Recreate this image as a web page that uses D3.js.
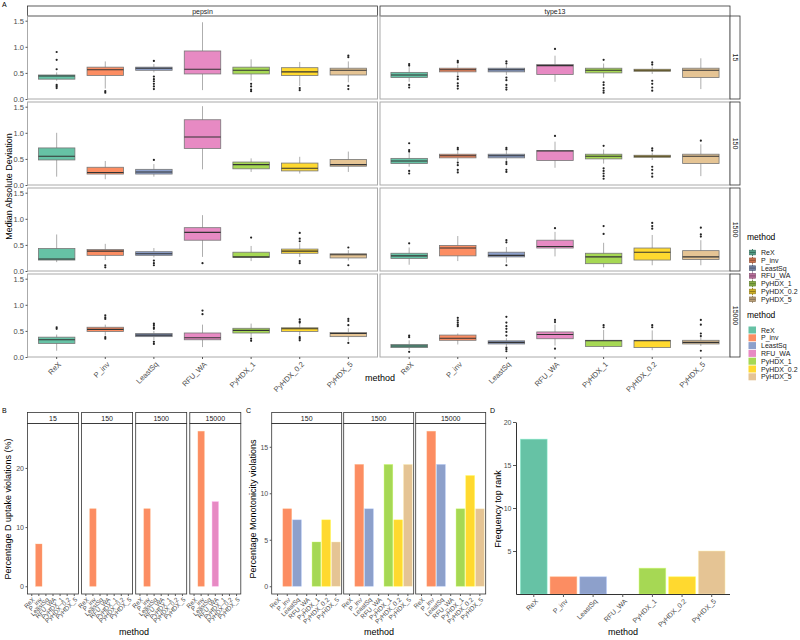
<!DOCTYPE html>
<html>
<head>
<meta charset="utf-8">
<script src="https://cdn.jsdelivr.net/npm/d3@7"></script>
<style>
  body { margin: 0; background: #fff; }
  text { font-family: "Liberation Sans", Arial, sans-serif; }
</style>
</head>
<body>
<div id="chart"></div>
<script>
// methods and colours (Set2)
const methods = ["ReX", "P_inv", "LeastSq", "RFU_WA", "PyHDX_1", "PyHDX_0.2", "PyHDX_5"];
const colors = ["#66C2A5", "#FC8D62", "#8DA0CB", "#E78AC3", "#A6D854", "#FFD92F", "#E5C494"];
const proteins = ["pepsin", "type13"];
const timepoints = ["15", "150", "1500", "15000"];
const madTicks = [0, 0.5, 1.0, 1.5];

// Panel A boxplot stats per method: [lower whisker, q1, median, q3, upper whisker, outliers]
const pepsin15 = [
  [0.35, 0.38, 0.44, 0.46, 0.51, [0.90, 0.75, 0.57, 0.27, 0.24, 0.21]],
  [0.20, 0.45, 0.56, 0.61, 0.72, [0.15, 0.12]],
  [0.51, 0.55, 0.59, 0.61, 0.67, [0.73, 0.43, 0.38, 0.34, 0.29, 0.24, 0.19]],
  [0.17, 0.48, 0.57, 0.92, 1.47, []],
  [0.35, 0.48, 0.55, 0.61, 0.76, [0.29, 0.24, 0.18, 0.15]],
  [0.25, 0.45, 0.52, 0.60, 0.71, [0.21, 0.17]],
  [0.32, 0.46, 0.55, 0.59, 0.72, [0.83, 0.80, 0.25, 0.19]]
];
const type13_15 = [
  [0.33, 0.41, 0.46, 0.51, 0.61, [0.67, 0.64, 0.27, 0.22]],
  [0.46, 0.52, 0.56, 0.59, 0.66, [0.73, 0.70, 0.43, 0.38, 0.30, 0.25, 0.20]],
  [0.46, 0.52, 0.56, 0.59, 0.66, [0.72, 0.68, 0.41, 0.36, 0.27, 0.22, 0.18]],
  [0.33, 0.47, 0.64, 0.66, 0.83, [0.96]],
  [0.41, 0.50, 0.55, 0.59, 0.68, [0.75, 0.32, 0.27, 0.21, 0.16, 0.12]],
  [0.48, 0.53, 0.55, 0.57, 0.62, [0.70, 0.66, 0.35, 0.29, 0.22, 0.16]],
  [0.19, 0.41, 0.55, 0.59, 0.78, []]
];
const pepsin150 = [
  [0.16, 0.48, 0.55, 0.71, 1.00, []],
  [0.11, 0.21, 0.24, 0.34, 0.46, []],
  [0.16, 0.21, 0.25, 0.30, 0.40, [0.48]],
  [0.30, 0.70, 0.92, 1.25, 1.51, []],
  [0.25, 0.31, 0.39, 0.44, 0.51, []],
  [0.22, 0.27, 0.32, 0.42, 0.54, []],
  [0.25, 0.36, 0.39, 0.49, 0.64, []]
];
const type13_150 = [
  [0.35, 0.41, 0.46, 0.51, 0.61, [0.80, 0.67, 0.64, 0.27, 0.22]],
  [0.46, 0.52, 0.56, 0.59, 0.65, [0.71, 0.68, 0.43, 0.38, 0.29, 0.24]],
  [0.46, 0.52, 0.56, 0.59, 0.65, [0.71, 0.68, 0.44, 0.40, 0.29, 0.25]],
  [0.33, 0.47, 0.65, 0.66, 0.83, [0.94]],
  [0.41, 0.50, 0.55, 0.59, 0.68, [0.75, 0.32, 0.27, 0.22, 0.17, 0.12]],
  [0.48, 0.53, 0.55, 0.57, 0.62, [0.70, 0.66, 0.35, 0.29, 0.22, 0.16]],
  [0.17, 0.41, 0.55, 0.59, 0.78, [0.85]]
];
const pepsin1500 = [
  [0.17, 0.21, 0.23, 0.43, 0.70, []],
  [0.21, 0.30, 0.38, 0.41, 0.52, [0.11, 0.07]],
  [0.26, 0.30, 0.33, 0.37, 0.44, [0.20, 0.15, 0.11]],
  [0.27, 0.59, 0.74, 0.83, 1.07, [0.15]],
  [0.19, 0.26, 0.27, 0.36, 0.48, [0.64]],
  [0.27, 0.34, 0.38, 0.42, 0.53, [0.73, 0.62, 0.57, 0.19, 0.15]],
  [0.20, 0.25, 0.31, 0.33, 0.40, [0.45, 0.11]]
];
const type13_1500 = [
  [0.12, 0.24, 0.29, 0.34, 0.45, [0.53]],
  [0.19, 0.29, 0.44, 0.49, 0.67, []],
  [0.16, 0.27, 0.30, 0.36, 0.46, [0.59, 0.55, 0.11]],
  [0.28, 0.44, 0.47, 0.59, 0.75, [0.82]],
  [0.07, 0.14, 0.27, 0.34, 0.54, [0.86, 0.71]],
  [0.11, 0.21, 0.36, 0.44, 0.69, [0.92, 0.86, 0.81]],
  [0.11, 0.22, 0.27, 0.39, 0.59, [0.83, 0.70, 0.66]]
];
const pepsin15000 = [
  [0.12, 0.26, 0.33, 0.38, 0.43, [0.57, 0.54]],
  [0.41, 0.49, 0.53, 0.57, 0.62, [0.80, 0.76, 0.73, 0.38, 0.35]],
  [0.32, 0.39, 0.42, 0.45, 0.50, [0.64, 0.61, 0.57, 0.54, 0.29, 0.25]],
  [0.19, 0.33, 0.37, 0.46, 0.62, [0.89, 0.82]],
  [0.36, 0.46, 0.51, 0.55, 0.64, [0.35, 0.31]],
  [0.41, 0.49, 0.54, 0.56, 0.64, [0.72, 0.68, 0.66, 0.38, 0.35, 0.32]],
  [0.31, 0.39, 0.45, 0.47, 0.55, [0.73, 0.69, 0.61, 0.27]]
];
const type13_15000 = [
  [0.14, 0.18, 0.21, 0.24, 0.32, [0.41, 0.38, 0.10]],
  [0.24, 0.32, 0.36, 0.42, 0.45, [0.75, 0.70, 0.66, 0.62, 0.59]],
  [0.21, 0.25, 0.28, 0.31, 0.36, [0.77, 0.66, 0.59, 0.54, 0.48, 0.41, 0.18, 0.15, 0.11]],
  [0.22, 0.35, 0.43, 0.48, 0.62, [0.71, 0.67, 0.16]],
  [0.15, 0.20, 0.31, 0.32, 0.52, [0.61, 0.57]],
  [0.13, 0.18, 0.31, 0.32, 0.51, [0.61, 0.57]],
  [0.21, 0.25, 0.28, 0.32, 0.38, [0.71, 0.62, 0.45, 0.40, 0.12]]
];

// Panel B: percentage D uptake violations per timepoint
const uptakeFacets = ["15", "150", "1500", "15000"];
const uptake15 = [0, 7.14, 0, 0, 0, 0, 0];
const uptake150 = [0, 13.1, 0, 0, 0, 0, 0];
const uptake1500 = [0, 13.1, 0, 0, 0, 0, 0];
const uptake15000 = [0, 26.2, 0, 14.3, 0, 0, 0];
const uptakeTicks = [0, 10, 20];

// Panel C: percentage monotonicity violations
const monoFacets = ["150", "1500", "15000"];
const mono150 = [0, 8.33, 7.14, 0, 4.76, 7.14, 4.76];
const mono1500 = [0, 13.1, 8.33, 0, 13.1, 7.14, 13.1];
const mono15000 = [0, 16.67, 13.1, 0, 8.33, 11.9, 8.33];
const monoTicks = [0, 5, 10, 15];

// Panel D: frequency top rank
const topRank = [18, 2, 2, 0, 3, 2, 5];
const rankTicks = [5, 10, 15, 20];

const madBoxes = {
  pepsin: [pepsin15, pepsin150, pepsin1500, pepsin15000],
  type13: [type13_15, type13_150, type13_1500, type13_15000]
};
const uptakeData = [uptake15, uptake150, uptake1500, uptake15000];
const monoData = [mono150, mono1500, mono15000];

const color = d3.scaleOrdinal().domain(methods).range(colors);

const svg = d3.select("#chart").append("svg")
  .attr("width", 800)
  .attr("height", 640);

// small helpers
function styleAxis(g, size) {
  g.attr("font-family", null).attr("font-size", null);
  g.selectAll("text").attr("fill", "#4d4d4d").style("font-size", size);
  g.selectAll(".tick line").attr("stroke", "#555");
}

function strip(x0, y0, w, h, label, vertical) {
  svg.append("rect")
    .attr("x", x0).attr("y", y0).attr("width", w).attr("height", h)
    .attr("fill", "#fff").attr("stroke", "#333").attr("stroke-width", 0.8);
  const t = svg.append("text")
    .attr("text-anchor", "middle")
    .attr("dominant-baseline", "central")
    .style("font-size", "7px")
    .attr("fill", "#1a1a1a")
    .text(label);
  if (vertical) t.attr("transform", `translate(${x0 + w / 2},${y0 + h / 2}) rotate(90)`);
  else t.attr("x", x0 + w / 2).attr("y", y0 + h / 2);
}

function panelLabel(x0, y0, txt) {
  svg.append("text").attr("x", x0).attr("y", y0)
    .style("font-size", "7px").attr("fill", "#000").text(txt);
}

function axisTitle(x0, y0, txt, rotate) {
  const t = svg.append("text")
    .attr("text-anchor", "middle")
    .style("font-size", "9px")
    .attr("fill", "#000")
    .text(txt);
  if (rotate) t.attr("transform", `translate(${x0},${y0}) rotate(-90)`);
  else t.attr("x", x0).attr("y", y0);
}

function rotatedLabels(g, size, dx, dy) {
  g.selectAll("text")
    .attr("x", 0).attr("y", 0).attr("dy", "0.35em")
    .attr("transform", `translate(${dx},${dy}) rotate(-45)`)
    .style("text-anchor", "end");
  styleAxis(g, size);
}

// ---------------- Panel A: boxplots ----------------
const aLeft = [27.5, 380], aWidth = 350;
const rowTop = 16, rowH = 83, rowGap = 3;

panelLabel(2, 7, "A");

proteins.forEach((p, c) => {
  strip(aLeft[c], 6, aWidth, 10, p, false);

  timepoints.forEach((t, r) => {
    const top = rowTop + r * (rowH + rowGap);
    const x = d3.scaleBand().domain(methods)
      .range([aLeft[c], aLeft[c] + aWidth])
      .paddingInner(0).paddingOuter(0.1);
    const y = d3.scaleLinear().domain([0, 1.59]).range([top + rowH, top]);

    const boxes = madBoxes[p][r].map((s, i) => ({
      method: methods[i], lo: s[0], q1: s[1], med: s[2], q3: s[3], hi: s[4], out: s[5]
    }));

    const g = svg.append("g").attr("class", "facet");
    const bw = x.bandwidth() * 0.75;
    const cx = d => x(d.method) + x.bandwidth() / 2;

    // whiskers
    g.selectAll(".whisker")
      .data(boxes)
      .enter()
      .append("line")
        .attr("x1", cx).attr("x2", cx)
        .attr("y1", d => y(d.lo)).attr("y2", d => y(d.hi))
        .attr("stroke", "#999").attr("stroke-width", 0.8);

    // boxes
    g.selectAll(".box")
      .data(boxes)
      .enter()
      .append("rect")
        .attr("x", d => cx(d) - bw / 2)
        .attr("width", bw)
        .attr("y", d => y(d.q3))
        .attr("height", d => Math.max(1, y(d.q1) - y(d.q3)))
        .attr("fill", d => color(d.method))
        .attr("stroke", "#777")
        .attr("stroke-width", 0.8);

    // medians
    g.selectAll(".median")
      .data(boxes)
      .enter()
      .append("line")
        .attr("x1", d => cx(d) - bw / 2).attr("x2", d => cx(d) + bw / 2)
        .attr("y1", d => y(d.med)).attr("y2", d => y(d.med))
        .attr("stroke", "#333").attr("stroke-width", 1.1);

    // outliers
    g.selectAll(".outlier")
      .data(boxes.flatMap(d => d.out.map(v => ({ method: d.method, v }))))
      .enter()
      .append("circle")
        .attr("cx", cx)
        .attr("cy", d => y(d.v))
        .attr("r", 1.1)
        .attr("fill", "#222");

    // panel border
    svg.append("rect")
      .attr("x", aLeft[c]).attr("y", top).attr("width", aWidth).attr("height", rowH)
      .attr("fill", "none").attr("stroke", "#aaa").attr("stroke-width", 1);

    if (c === 0) {
      const ya = svg.append("g")
        .attr("transform", `translate(${aLeft[0]},0)`)
        .call(d3.axisLeft(y).tickValues(madTicks).tickFormat(d3.format(".1f")).tickSize(2).tickPadding(1.5));
      ya.select(".domain").remove();
      styleAxis(ya, "7.5px");
    }
    if (c === 1) strip(730, top, 10, rowH, t, true);
    if (r === timepoints.length - 1) {
      const xa = svg.append("g")
        .attr("transform", `translate(0,${top + rowH})`)
        .call(d3.axisBottom(x).tickSize(2).tickPadding(1));
      xa.select(".domain").remove();
      rotatedLabels(xa, "7.5px", 3, 6);
    }
  });
});

axisTitle(12, (rowTop + rowTop + 4 * rowH + 3 * rowGap) / 2, "Median Absolute Deviation", true);
axisTitle(380, 381, "method", false);

// legends
function legend(top, boxGlyph) {
  svg.append("text").attr("x", 747).attr("y", top)
    .style("font-size", "8.5px").attr("fill", "#000").text("method");
  const items = svg.selectAll(null)
    .data(methods)
    .enter()
    .append("g")
      .attr("transform", (d, i) => `translate(0,${top + 12.5 + i * 7.8})`);
  if (boxGlyph) {
    items.append("line")
      .attr("x1", 752.5).attr("x2", 752.5).attr("y1", -3.5).attr("y2", 3.5)
      .attr("stroke", d => d3.color(color(d)).darker(1.2));
    items.append("rect")
      .attr("x", 749.5).attr("y", -2.3).attr("width", 6).attr("height", 4.6)
      .attr("fill", d => d3.color(color(d)).darker(0.6))
      .attr("stroke", d => d3.color(color(d)).darker(1.4)).attr("stroke-width", 0.7);
    items.append("line")
      .attr("x1", 749.5).attr("x2", 755.5).attr("y1", 0).attr("y2", 0)
      .attr("stroke", d => d3.color(color(d)).darker(1.6));
  } else {
    items.append("rect")
      .attr("x", 748.5).attr("y", -3.5).attr("width", 7.5).attr("height", 7)
      .attr("fill", d => color(d));
  }
  items.append("text")
    .attr("x", 761).attr("y", 0)
    .attr("dominant-baseline", "central")
    .style("font-size", "7px").attr("fill", "#1a1a1a")
    .text(d => d);
}
legend(240, true);
legend(317.5, false);

// ---------------- Panel B / C: faceted bars ----------------
const facetTop = 412.5, facetStrip = 11, facetBottom = 594;

function barFacets(facets, data, left, width, gap, ticks, labelSize) {
  const maxV = d3.max(data.flat());
  const y = d3.scaleLinear()
    .domain([-0.05 * maxV, 1.05 * maxV])
    .range([facetBottom, facetTop + facetStrip]);

  facets.forEach((f, k) => {
    const x0 = left + k * (width + gap);
    const x = d3.scaleBand().domain(methods)
      .range([x0, x0 + width]).paddingInner(0).paddingOuter(0.1);
    strip(x0, facetTop, width, facetStrip, f, false);

    const bars = data[k].map((v, i) => ({ method: methods[i], v }));
    svg.append("g").selectAll(".bar")
      .data(bars)
      .enter()
      .append("rect")
        .attr("x", d => x(d.method) + x.bandwidth() * 0.05)
        .attr("width", x.bandwidth() * 0.9)
        .attr("y", d => y(d.v))
        .attr("height", d => y(0) - y(d.v))
        .attr("fill", d => color(d.method))
        .attr("stroke", d => d3.color(color(d.method)).brighter(0.6))
        .attr("stroke-opacity", 0.6)
        .attr("stroke-width", 0.6);

    svg.append("rect")
      .attr("x", x0).attr("y", facetTop + facetStrip)
      .attr("width", width).attr("height", facetBottom - facetTop - facetStrip)
      .attr("fill", "none").attr("stroke", "#333").attr("stroke-width", 0.8);

    const xa = svg.append("g")
      .attr("transform", `translate(0,${facetBottom})`)
      .call(d3.axisBottom(x).tickSize(2).tickPadding(1));
    xa.select(".domain").remove();
    rotatedLabels(xa, labelSize, 2, 4.5);

    if (k === 0) {
      const ya = svg.append("g")
        .attr("transform", `translate(${x0},0)`)
        .call(d3.axisLeft(y).tickValues(ticks).tickSize(2).tickPadding(1.5));
      ya.select(".domain").remove();
      styleAxis(ya, "7px");
    }
  });
}

panelLabel(2, 413, "B");
barFacets(uptakeFacets, uptakeData, 27.5, 51, 3.1, uptakeTicks, "6.3px");
axisTitle(11, 509, "Percentage D uptake violations (%)", true);
axisTitle(134, 635, "method", false);

panelLabel(246, 413, "C");
barFacets(monoFacets, monoData, 271.7, 70, 2, monoTicks, "6.5px");
axisTitle(256, 509, "Percentage Monotonicity violations", true);
axisTitle(379, 635, "method", false);

// ---------------- Panel D: top rank frequency ----------------
panelLabel(490, 413, "D");
const dx = d3.scaleBand().domain(methods).range([516, 729.5]).paddingInner(0).paddingOuter(0.1);
const dy = d3.scaleLinear().domain([0, 20]).range([594, 422]);

svg.append("g").selectAll(".bar")
  .data(topRank.map((v, i) => ({ method: methods[i], v })))
  .enter()
  .append("rect")
    .attr("x", d => dx(d.method) + dx.bandwidth() * 0.05)
    .attr("width", dx.bandwidth() * 0.9)
    .attr("y", d => dy(d.v))
    .attr("height", d => dy(0) - dy(d.v))
    .attr("fill", d => color(d.method))
    .attr("stroke", d => d3.color(color(d.method)).brighter(0.6))
    .attr("stroke-opacity", 0.6)
    .attr("stroke-width", 0.8);

const dya = svg.append("g")
  .attr("transform", "translate(516,0)")
  .call(d3.axisLeft(dy).tickValues(rankTicks).tickSize(3).tickSizeOuter(0).tickPadding(1.5));
dya.select(".domain").attr("stroke", "#333");
styleAxis(dya, "7px");

const dxa = svg.append("g")
  .attr("transform", "translate(0,594)")
  .call(d3.axisBottom(dx).tickSize(3).tickSizeOuter(0).tickPadding(1));
dxa.select(".domain").attr("stroke", "#333");
rotatedLabels(dxa, "7px", 3, 6);

axisTitle(501, 509, "Frequency top rank", true);
axisTitle(623, 635, "method", false);
</script>
</body>
</html>
